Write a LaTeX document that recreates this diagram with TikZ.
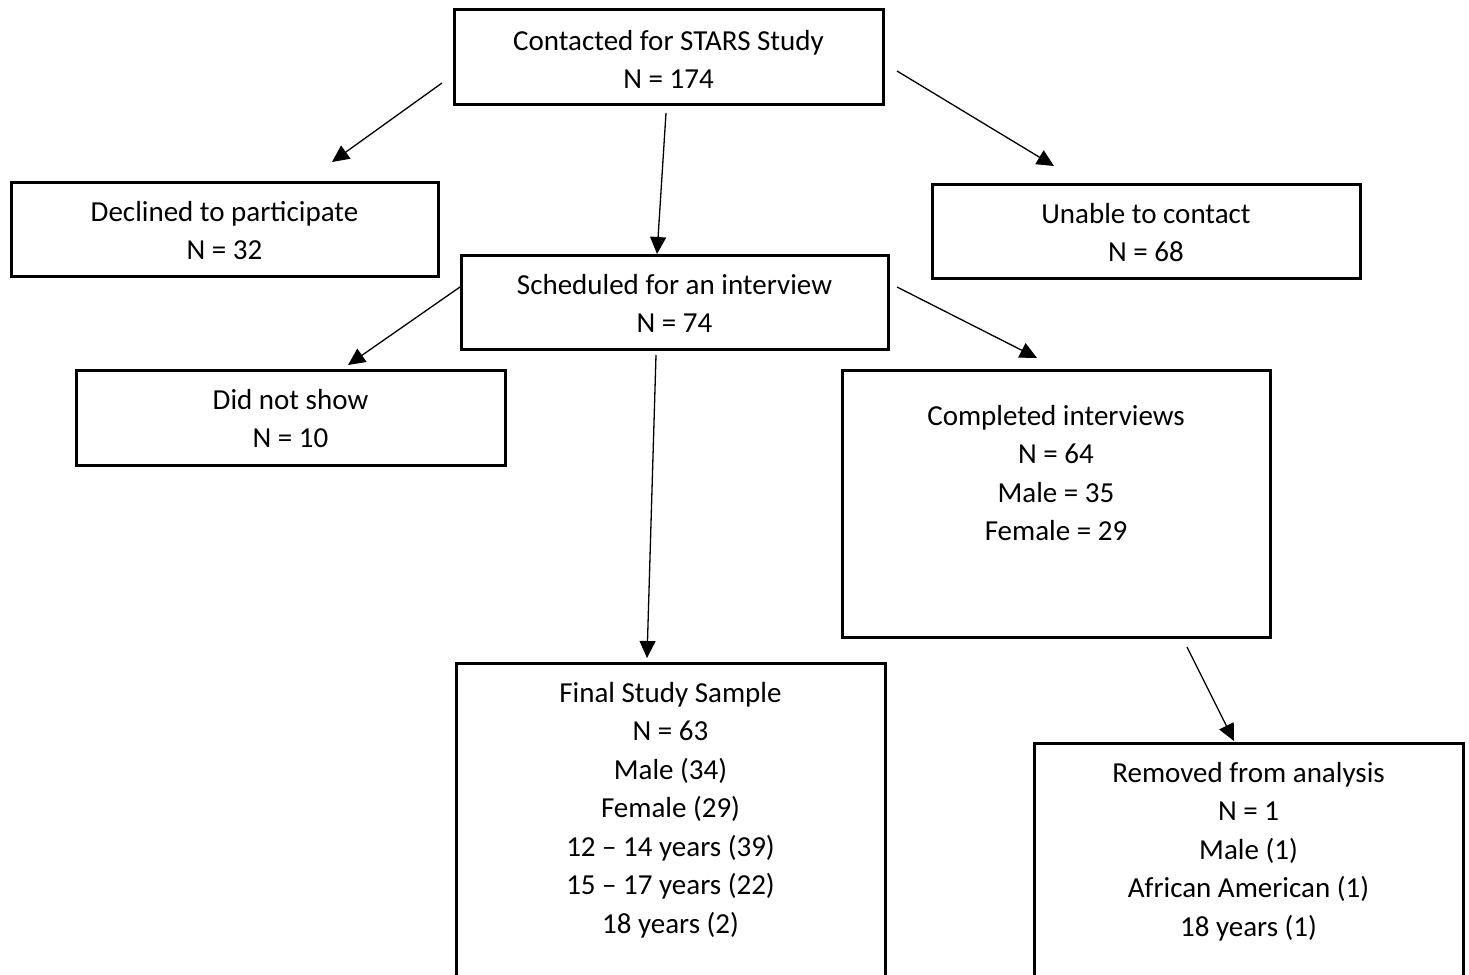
\documentclass[tikz,border=0pt]{standalone}
\usepackage{fontspec}
\setmainfont{Carlito}
\usetikzlibrary{arrows.meta}
\tikzset{
  box/.style={draw=black, line width=3pt, rectangle, outer sep=0pt, inner sep=0pt, anchor=north west},
  txt/.style={align=center, anchor=base, inner sep=0pt, font=\fontsize{29}{38.5}\selectfont},
  arr/.style={line width=1.3pt, -{Triangle[length=17pt,width=16pt]}}
}
\begin{document}
\begin{tikzpicture}[x=1pt,y=-1pt]
\useasboundingbox (0,0) rectangle (1469,974);
\clip (0,0) rectangle (1469,974);
\fill[white] (0,0) rectangle (1469,974);

% boxes
\node[box, minimum width=429pt, minimum height=94pt] (contacted) at (454,10) {};
\node[box, minimum width=427pt, minimum height=94pt] (declined) at (11,182) {};
\node[box, minimum width=428pt, minimum height=94pt] (unable) at (932,184) {};
\node[box, minimum width=427pt, minimum height=94pt] (scheduled) at (461,255) {};
\node[box, minimum width=429pt, minimum height=95pt] (noshow) at (76,370) {};
\node[box, minimum width=428pt, minimum height=267pt] (completed) at (842,370) {};
\node[box, minimum width=429pt, minimum height=340pt] (final) at (456,663) {};
\node[box, minimum width=429pt, minimum height=300pt] (removed) at (1034,743) {};

% texts (anchor base = baseline of the last line)
\node[txt] (contactedT) at ([yshift=-78.5pt]contacted.north) {Contacted for STARS Study\\N = 174};
\node[txt] (declinedT) at ([yshift=-77.5pt]declined.north) {Declined to participate\\N = 32};
\node[txt] (unableT) at ([yshift=-77.5pt]unable.north) {Unable to contact\\N = 68};
\node[txt] (scheduledT) at ([yshift=-77.5pt]scheduled.north) {Scheduled for an interview\\N = 74};
\node[txt] (noshowT) at ([yshift=-77.5pt]noshow.north) {Did not show\\N = 10};
\node[txt] (completedT) at ([yshift=-170.5pt]completed.north) {Completed interviews\\N = 64\\Male = 35\\Female = 29};
\node[txt] (finalT) at ([yshift=-270pt]final.north) {Final Study Sample\\N = 63\\Male (34)\\Female (29)\\12 -- 14 years (39)\\15 -- 17 years (22)\\18 years (2)};
\node[txt] (removedT) at ([yshift=-193pt]removed.north) {Removed from analysis\\N = 1\\Male (1)\\African American (1)\\18 years (1)};

% connector end points
\coordinate (c1s) at (442,83);   \coordinate (c1e) at (332,162);
\coordinate (c2s) at (666,113);  \coordinate (c2e) at (657,254);
\coordinate (c3s) at (897,71);   \coordinate (c3e) at (1054,166);
\coordinate (c4s) at (460,287);  \coordinate (c4e) at (348,365);
\coordinate (c5s) at (656,355);  \coordinate (c5e) at (647,658);
\coordinate (c6s) at (897,287);  \coordinate (c6e) at (1037,358);
\coordinate (c7s) at (1187,647); \coordinate (c7e) at (1234,741);

\draw[arr] (c1s) -- (c1e);
\draw[arr] (c2s) -- (c2e);
\draw[arr] (c3s) -- (c3e);
\draw[arr] (c4s) -- (c4e);
\draw[arr] (c5s) -- (c5e);
\draw[arr] (c6s) -- (c6e);
\draw[arr] (c7s) -- (c7e);
\end{tikzpicture}
\end{document}
